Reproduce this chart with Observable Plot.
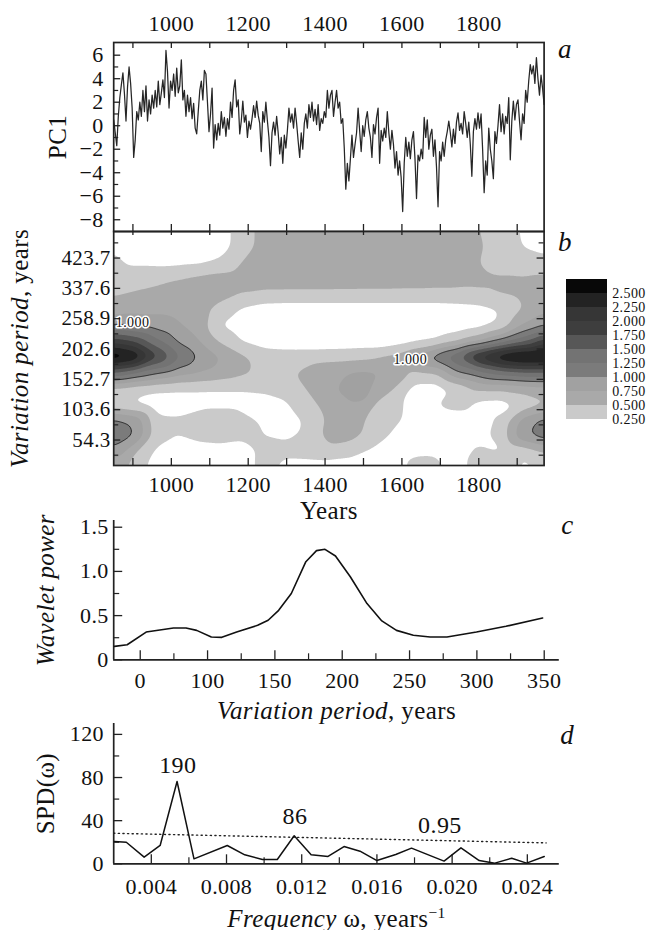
<!DOCTYPE html>
<html><head><meta charset="utf-8">
<script src="https://cdn.jsdelivr.net/npm/d3@7"></script>
<script src="https://cdn.jsdelivr.net/npm/@observablehq/plot@0.6"></script>
<style>
body{margin:0;background:#fff;}
#chart{position:relative;width:663px;height:930px;background:#fff;}
</style></head><body><div id="chart"></div><script>
// ---------- DATA ----------
// Panel a: PC1 series [year, value]
const pc1Series = [
[850,0.5],[854,-0.6],[858,-1.7],[862,0.8],[866,2.4],[870,3.5],[874,4.5],[878,2.7],[882,0.4],[886,3.3],[890,5.0],[894,3.6],[898,1.5],[902,-2.7],[906,-1.2],[910,1.2],[914,0.5],[918,2.0],[922,0.8],[926,3.0],[930,1.2],[934,3.4],[938,0.4],[942,2.2],[946,1.0],[950,2.6],[954,1.5],[958,3.0],[962,1.6],[966,3.8],[970,1.8],[974,2.8],[978,3.9],[982,2.4],[986,6.4],[990,4.6],[994,1.5],[998,3.8],
[1002,3.0],[1006,4.4],[1010,2.5],[1014,4.9],[1018,2.8],[1022,3.4],[1026,5.6],[1030,2.2],[1034,3.0],[1038,0.8],[1042,2.6],[1046,1.2],[1050,2.4],[1054,0.6],[1058,1.9],[1062,-0.2],[1066,-0.7],[1070,1.2],[1074,3.0],[1078,3.8],[1082,2.2],[1086,4.7],[1090,4.4],[1094,2.0],[1098,-0.5],
[1102,1.0],[1106,3.2],[1110,-1.9],[1114,0.1],[1118,-1.2],[1122,0.2],[1126,-0.8],[1130,1.2],[1134,-0.2],[1138,0.7],[1142,-0.9],[1146,0.6],[1150,-0.3],[1154,2.0],[1158,0.7],[1162,3.0],[1166,3.9],[1170,1.6],[1174,2.2],[1178,-0.7],[1182,0.4],[1186,2.1],[1190,0.3],[1194,0.9],[1198,-1.0],
[1202,0.4],[1206,-0.3],[1210,0.6],[1214,1.7],[1218,0.7],[1222,2.1],[1226,0.9],[1230,0.2],[1234,-2.2],[1238,1.2],[1242,0.3],[1246,2.0],[1250,0.4],[1254,-1.0],[1258,-3.4],[1262,-0.6],[1266,0.3],[1270,-0.8],[1274,0.8],[1278,-0.6],[1282,-2.4],[1286,-1.0],[1290,-3.2],[1294,-0.8],[1298,-1.9],
[1302,-0.4],[1306,1.5],[1310,0.3],[1314,1.0],[1318,-0.2],[1322,1.5],[1326,0.2],[1330,-1.3],[1334,-2.7],[1338,-0.6],[1342,-2.0],[1346,0.2],[1350,1.0],[1354,-0.2],[1358,1.8],[1362,0.7],[1366,2.0],[1370,0.4],[1374,1.4],[1378,0.1],[1382,1.8],[1386,-0.4],[1390,0.6],[1394,0.2],[1398,1.2],
[1402,0.7],[1406,3.0],[1410,1.5],[1414,2.6],[1418,3.0],[1422,0.8],[1426,2.0],[1430,3.0],[1434,1.5],[1438,2.0],[1442,0.2],[1446,0.6],[1450,-1.9],[1454,-5.4],[1458,-3.2],[1462,-4.7],[1466,-2.8],[1470,-0.8],[1474,-2.7],[1478,-1.6],[1482,-0.6],[1486,1.5],[1490,-0.4],[1494,-2.2],[1498,0.0],
[1502,-0.9],[1506,0.5],[1510,1.2],[1514,-0.2],[1518,-1.0],[1522,-2.7],[1526,0.1],[1530,-0.7],[1534,0.7],[1538,1.5],[1542,-3.2],[1546,-0.4],[1550,-1.3],[1554,-0.2],[1558,-1.0],[1562,1.2],[1566,-0.6],[1570,-2.0],[1574,-0.4],[1578,-1.6],[1582,-3.6],[1586,-2.2],[1590,-4.2],[1594,-3.0],[1598,-4.4],
[1602,-7.3],[1606,-3.2],[1610,-1.0],[1614,-2.6],[1618,-1.4],[1622,-2.8],[1626,-1.2],[1630,-0.5],[1634,-2.8],[1638,-6.2],[1642,-2.5],[1646,-3.0],[1650,-2.0],[1654,-2.8],[1658,0.7],[1662,-1.0],[1666,0.5],[1670,-2.0],[1674,-0.8],[1678,-0.3],[1682,-2.6],[1686,-1.2],[1690,-3.5],[1694,-6.9],[1698,-2.2],
[1702,-3.0],[1706,-1.4],[1710,-2.6],[1714,-1.2],[1718,-0.5],[1722,0.4],[1726,-0.6],[1730,-1.8],[1734,-0.3],[1738,-1.5],[1742,0.3],[1746,1.1],[1750,-0.4],[1754,0.2],[1758,-0.7],[1762,1.2],[1766,0.2],[1770,-1.0],[1774,0.3],[1778,-1.6],[1782,-4.3],[1786,-0.5],[1790,0.6],[1794,-0.3],[1798,1.1],
[1802,-0.2],[1806,1.0],[1810,-2.0],[1814,-5.7],[1818,-3.0],[1822,-4.2],[1826,-0.2],[1830,-2.0],[1834,-3.0],[1838,-4.5],[1842,-0.5],[1846,-1.5],[1850,0.0],[1854,1.8],[1858,-0.5],[1862,1.0],[1866,-0.7],[1870,0.8],[1874,0.2],[1878,2.4],[1882,-2.9],[1886,0.4],[1890,2.1],[1894,0.5],[1898,1.8],
[1902,2.2],[1906,0.4],[1910,-1.2],[1914,1.0],[1918,0.2],[1922,3.0],[1926,2.0],[1930,3.8],[1934,5.2],[1938,4.4],[1942,5.1],[1946,3.6],[1950,5.8],[1954,4.0],[1958,2.6],[1962,4.3],[1966,3.2],[1970,1.8]
];
const yearDomain = [850, 1970];
const yearTicks = [900, 1000, 1100, 1200, 1300, 1400, 1500, 1600, 1700, 1800, 1900];
const yearLabels = [1000, 1200, 1400, 1600, 1800];
const pc1Domain = [-9.0, 7.08];
const pc1Major = [-8, -6, -4, -2, 0, 2, 4, 6];
const pc1Minor = [-7, -5, -3, -1, 1, 3, 5];

// Panel b: wavelet power grid (rows = period index, top to bottom; cols = years)
const periodLabels = ["54.3", "103.6", "152.7", "202.6", "258.9", "337.6", "423.7"];
const periodDomain = [-0.84, 6.875];
const gridYears = [850, 906, 962, 1018, 1074, 1130, 1186, 1242, 1298, 1354, 1410, 1466, 1522, 1578, 1634, 1690, 1746, 1802, 1858, 1914, 1970];
const gridIdx = [6.9, 6.38, 5.86, 5.34, 4.82, 4.3, 3.78, 3.26, 2.74, 2.22, 1.7, 1.18, 0.66, 0.14, -0.38, -0.9];
const gridValues = [
[0.2,0.08,0.07,0.08,0.1,0.15,0.38,0.6,0.62,0.66,0.68,0.68,0.68,0.67,0.66,0.64,0.6,0.5,0.4,0.22,0.12],
[0.22,0.08,0.06,0.07,0.1,0.15,0.38,0.6,0.64,0.68,0.7,0.7,0.7,0.7,0.68,0.66,0.62,0.52,0.42,0.24,0.15],
[0.3,0.2,0.18,0.18,0.2,0.3,0.52,0.62,0.65,0.67,0.68,0.68,0.67,0.66,0.64,0.62,0.58,0.5,0.42,0.36,0.35],
[0.36,0.4,0.44,0.5,0.56,0.6,0.62,0.64,0.64,0.64,0.63,0.62,0.62,0.61,0.6,0.58,0.56,0.54,0.52,0.52,0.55],
[0.47,0.52,0.56,0.6,0.62,0.6,0.5,0.45,0.45,0.45,0.45,0.45,0.45,0.45,0.45,0.45,0.46,0.48,0.52,0.56,0.6],
[0.64,0.68,0.7,0.68,0.58,0.38,0.2,0.12,0.1,0.1,0.1,0.1,0.1,0.1,0.1,0.1,0.12,0.15,0.25,0.5,0.7],
[0.97,0.95,0.88,0.78,0.62,0.22,0.12,0.08,0.06,0.06,0.06,0.06,0.06,0.06,0.07,0.08,0.1,0.15,0.3,0.75,0.97],
[1.9,1.7,1.3,0.95,0.75,0.45,0.22,0.12,0.1,0.1,0.1,0.1,0.1,0.12,0.2,0.27,0.45,0.7,1.05,1.4,1.9],
[2.8,2.6,1.85,1.3,0.97,0.75,0.55,0.4,0.38,0.38,0.4,0.42,0.45,0.58,0.85,1.2,1.55,2.2,2.6,2.75,2.75],
[1.5,1.25,1.03,0.85,0.75,0.65,0.55,0.42,0.45,0.58,0.7,0.75,0.78,0.72,0.45,0.5,0.98,1.15,1.35,1.45,1.45],
[0.42,0.35,0.3,0.28,0.28,0.28,0.28,0.3,0.33,0.52,0.7,0.85,0.7,0.52,0.15,0.12,0.3,0.55,0.55,0.6,0.65],
[0.3,0.2,0.1,0.1,0.12,0.1,0.12,0.15,0.22,0.4,0.62,0.68,0.52,0.3,0.2,0.25,0.35,0.15,0.12,0.3,0.45],
[1.08,0.95,0.32,0.3,0.45,0.58,0.35,0.2,0.15,0.28,0.55,0.6,0.45,0.3,0.18,0.12,0.1,0.15,0.3,0.85,1.1],
[1.12,1.02,0.35,0.25,0.35,0.38,0.3,0.25,0.2,0.3,0.6,0.58,0.42,0.2,0.15,0.12,0.12,0.18,0.35,0.95,1.15],
[0.95,0.5,0.2,0.1,0.1,0.12,0.15,0.3,0.35,0.38,0.42,0.35,0.2,0.12,0.2,0.22,0.12,0.3,0.2,0.3,0.5],
[0.5,0.35,0.15,0.1,0.28,0.15,0.1,0.35,0.1,0.1,0.1,0.1,0.1,0.1,0.35,0.3,0.1,0.45,0.55,0.15,0.3]
];
const extraPoints = [{year: 1479, idx: 1.57, v: 1.15}];
const bandThresholds = [0.25, 0.5, 0.75, 1.0, 1.25, 1.5, 1.75, 2.0, 2.25, 2.5];
const bandColors = ["#cacaca", "#a9a9a9", "#a1a1a1", "#7b7b7b", "#737373", "#575757", "#3e3e3e", "#363636", "#232323", "#080808"];
const contourLabels = [{year: 899, idx: 3.87, label: "1.000"}, {year: 1622, idx: 2.65, label: "1.000"}];

// Panel c: global wavelet power
const cPeriod = [30.9,40.3,54.4,74.7,84,91.9,102.8,110.6,121.6,137.2,145,152.8,162.2,173,180.9,187.2,195,206,218.4,229.4,240.3,252.8,265.3,277.8,299.7,321.6,348.8];
const cPower  = [0.152,0.17,0.314,0.36,0.36,0.333,0.258,0.254,0.314,0.39,0.447,0.56,0.75,1.11,1.235,1.25,1.174,0.94,0.636,0.44,0.333,0.277,0.258,0.258,0.314,0.379,0.473];
const cTickVals = [50, 100, 150, 200, 250, 300, 350];
const cTickText = ["0", "100", "150", "200", "250", "300", "350"];
const cMinor = [75, 125, 175, 225, 275, 325];
const cYTicks = [0, 0.5, 1.0, 1.5];
const cYText = ["0", "0.5", "1.0", "1.5"];
const cYMinor = [0.25, 0.75, 1.25];

// Panel d: spectral density
const dFreq = [0.00204,0.00267,0.00362,0.00447,0.00537,0.00627,0.00804,0.00897,0.00991,0.0107,0.0116,0.0125,0.0134,0.01425,0.0151,0.016,0.017,0.01784,0.01957,0.02047,0.02144,0.02227,0.02317,0.02396,0.0249];
const dSpd  = [20.6,20,6.2,17,76.3,4.6,17,8.3,4,4,26,8.3,6.8,16,11.7,3,8.6,14.5,2.5,14.8,3,0.6,5.2,0.6,6.8];
const ciFreq = [0.002, 0.025];
const ciLevel = [28.3, 19.4];
const dTickVals = [0.004, 0.008, 0.012, 0.016, 0.020, 0.024];
const dMinor = [0.006, 0.010, 0.014, 0.018, 0.022];
const dYTicks = [0, 40, 80, 120];
const dYMinor = [20, 60, 100];
const peakNotes = [{f: 0.00541, s: 91.2, label: "190"}, {f: 0.01164, s: 43.9, label: "86"}, {f: 0.01935, s: 35.6, label: "0.95"}];

// ---------- LAYOUT ----------
const W = 663, H = 930;
const FL = 113.2;
const serif = '"Liberation Serif","Times New Roman",serif';
const container = document.getElementById("chart");
function st(){ return {fontFamily: serif, fontSize: "22px", background: "transparent", overflow: "visible", color: "#111", letterSpacing: "0.4px"}; }
function add(svg){ svg.style.position = "absolute"; svg.style.left = "0px"; svg.style.top = "0px"; container.appendChild(svg); return svg; }
function richText(svg, full, parts){
  d3.select(svg).selectAll("text").filter(function(){ return this.textContent === full; }).each(function(){
    const t = d3.select(this); t.text(null);
    for (const p of parts){
      const s = t.append("tspan").text(p.text);
      if (p.italic) s.attr("font-style", "italic");
      if (p.sup) s.attr("dy", "-0.55em").attr("font-size", "0.62em");
    }
  });
}
const minus = d => d < 0 ? "\u2212" + (-d) : String(d);
const TK = "#222";

// Panel a
const aTop = 42, aBot = 231, aRight = 543.6, aH = aBot - aTop, aW = aRight - FL;
add(Plot.plot({
  width: W, height: H, marginLeft: FL, marginRight: W - aRight, marginTop: aTop, marginBottom: H - aBot,
  x: {domain: yearDomain, axis: null}, y: {domain: pc1Domain, axis: null},
  style: st(),
  marks: [
    Plot.line(pc1Series, {x: d => d[0], y: d => d[1], stroke: "#262626", strokeWidth: 1.25}),
    Plot.tickX(yearTicks, {x: d => d, insetBottom: aH - 6, stroke: TK, strokeWidth: 1.3}),
    Plot.tickX(yearTicks, {x: d => d, insetTop: aH - 7, stroke: TK, strokeWidth: 1.3}),
    Plot.tickY(pc1Major, {y: d => d, insetRight: aW - 7, stroke: TK, strokeWidth: 1.3}),
    Plot.tickY(pc1Minor, {y: d => d, insetRight: aW - 5, stroke: TK, strokeWidth: 1.2}),
    Plot.frame({stroke: "#222", strokeWidth: 1.7}),
    Plot.text(yearLabels, {x: d => d, text: d => String(d), frameAnchor: "top", dy: -18.7, lineAnchor: "middle"}),
    Plot.text(pc1Major, {y: d => d, text: minus, frameAnchor: "left", dx: -10, textAnchor: "end", lineAnchor: "middle"}),
    Plot.text(["PC1"], {text: d => d, frameAnchor: "left", dx: -56, rotate: -90, fontSize: 25, textAnchor: "middle", lineAnchor: "middle"}),
    Plot.text(["a"], {text: d => d, frameAnchor: "top-right", dx: 14, dy: 7, fontStyle: "italic", fontSize: 27, textAnchor: "start", lineAnchor: "middle"})
  ]
}));

// Panel b
const gridPoints = gridIdx.flatMap((yv, r) => gridYears.map((xv, c) => ({year: xv, idx: yv, v: gridValues[r][c]}))).concat(extraPoints);
const bTop = 231, bBot = 465, bH = bBot - bTop, bW = aRight - FL;
const pIdx = periodLabels.map((d, i) => i);
const pMinor = periodLabels.slice(0, 6).map((d, i) => i + 0.5).concat([-0.5, 6.5]);
const plotB = add(Plot.plot({
  width: W, height: H, marginLeft: FL, marginRight: W - aRight, marginTop: bTop, marginBottom: H - bBot,
  x: {domain: yearDomain, axis: null}, y: {domain: periodDomain, axis: null},
  color: {type: "threshold", domain: bandThresholds.slice(1), range: bandColors},
  style: st(),
  marks: [
    Plot.contour(gridPoints, {x: "year", y: "idx", fill: "v", thresholds: bandThresholds, interpolate: "barycentric", blur: 4, pixelSize: 1, stroke: "none"}),
    Plot.contour(gridPoints, {x: "year", y: "idx", value: "v", thresholds: [1], interpolate: "barycentric", blur: 4, pixelSize: 1, fill: "none", stroke: "#1e1e1e", strokeWidth: 0.9}),
    Plot.text(contourLabels, {x: "year", y: "idx", text: "label", fontSize: 14, fill: "#111", stroke: "white", strokeWidth: 3, paintOrder: "stroke", lineAnchor: "middle"}),
    Plot.tickX(yearTicks, {x: d => d, insetBottom: bH - 4, stroke: TK, strokeWidth: 1.3}),
    Plot.tickX(yearTicks, {x: d => d, insetTop: bH - 7, stroke: TK, strokeWidth: 1.3}),
    Plot.tickY(pIdx, {y: d => d, insetRight: bW - 7, stroke: TK, strokeWidth: 1.3}),
    Plot.tickY(pMinor, {y: d => d, insetRight: bW - 5, stroke: TK, strokeWidth: 1.2}),
    Plot.tickY(pIdx, {y: d => d, insetLeft: bW - 7, stroke: TK, strokeWidth: 1.3}),
    Plot.tickY(pMinor, {y: d => d, insetLeft: bW - 5, stroke: TK, strokeWidth: 1.2}),
    Plot.frame({stroke: "#222", strokeWidth: 1.7}),
    Plot.text(yearLabels, {x: d => d, text: d => String(d), frameAnchor: "bottom", dy: 19, lineAnchor: "middle"}),
    Plot.text(pIdx, {y: d => d, text: d => periodLabels[d], frameAnchor: "left", dx: -3, textAnchor: "end", lineAnchor: "middle", fontSize: 21}),
    Plot.text(["Years"], {text: d => d, frameAnchor: "bottom", dy: 45, fontSize: 25, lineAnchor: "middle"}),
    Plot.text(["Variation period, years"], {text: d => d, frameAnchor: "left", dx: -94, rotate: -90, fontSize: 25, textAnchor: "middle", lineAnchor: "middle"}),
    Plot.text(["b"], {text: d => d, frameAnchor: "top-right", dx: 14, dy: 10.7, fontStyle: "italic", fontSize: 27, textAnchor: "start", lineAnchor: "middle"})
  ]
}));
richText(plotB, "Variation period, years", [{text: "Variation period", italic: true}, {text: ", years"}]);

// Legend
add(Plot.plot({
  width: W, height: H, marginLeft: 566, marginRight: W - 607, marginTop: 279, marginBottom: H - 419,
  x: {domain: [0, 1], axis: null}, y: {domain: [0, 10], axis: null},
  color: {type: "identity"},
  style: st(),
  marks: [
    Plot.rect(bandThresholds, {x1: 0, x2: 1, y1: (d, i) => i, y2: (d, i) => i + 1, fill: (d, i) => bandColors[i]}),
    Plot.text(bandThresholds, {x: 1, y: (d, i) => i, text: d => d.toFixed(3), dx: 4.7, textAnchor: "start", lineAnchor: "middle", fontSize: 14})
  ]
}));

// Panel c
const cTop = 520, cBot = 659.3, cRight = 558.8, cH = cBot - cTop, cW = cRight - FL;
const cXDomain = [30.3, 361.2];
const plotC = add(Plot.plot({
  width: W, height: H, marginLeft: FL, marginRight: W - cRight, marginTop: cTop, marginBottom: H - cBot,
  x: {domain: cXDomain, axis: null}, y: {domain: [0, 1.576], axis: null},
  style: st(),
  marks: [
    Plot.ruleX([cXDomain[0]], {x: d => d, stroke: "#222", strokeWidth: 1.7}),
    Plot.ruleY([0], {y: d => d, stroke: "#222", strokeWidth: 1.7}),
    Plot.tickX(cTickVals, {x: d => d, insetTop: cH - 9, stroke: TK, strokeWidth: 1.3}),
    Plot.tickX(cMinor, {x: d => d, insetTop: cH - 6, stroke: TK, strokeWidth: 1.2}),
    Plot.tickY(cYTicks, {y: d => d, insetRight: cW - 9, stroke: TK, strokeWidth: 1.3}),
    Plot.tickY(cYMinor, {y: d => d, insetRight: cW - 6, stroke: TK, strokeWidth: 1.2}),
    Plot.line(cPeriod.map((p, i) => [p, cPower[i]]), {x: d => d[0], y: d => d[1], stroke: "#111", strokeWidth: 1.6}),
    Plot.text(cTickVals, {x: d => d, text: (d, i) => cTickText[i], frameAnchor: "bottom", dy: 20.7, lineAnchor: "middle"}),
    Plot.text(cYTicks, {y: d => d, text: (d, i) => cYText[i], frameAnchor: "left", dx: -5, textAnchor: "end", lineAnchor: "middle"}),
    Plot.text(["Variation period, years"], {text: d => d, frameAnchor: "bottom", dy: 50.7, fontSize: 25, lineAnchor: "middle"}),
    Plot.text(["Wavelet power"], {text: d => d, frameAnchor: "left", dx: -68, rotate: -90, fontSize: 25, fontStyle: "italic", textAnchor: "middle", lineAnchor: "middle"}),
    Plot.text(["c"], {text: d => d, frameAnchor: "top-right", dx: 2, dy: 5, fontStyle: "italic", fontSize: 27, textAnchor: "start", lineAnchor: "middle"})
  ]
}));
richText(plotC, "Variation period, years", [{text: "Variation period", italic: true}, {text: ", years"}]);

// Panel d
const dTop = 723, dBot = 863.3, dRight = 558.8, dH = dBot - dTop, dW = dRight - FL;
const dXDomain = [0.002, 0.0257];
const plotD = add(Plot.plot({
  width: W, height: H, marginLeft: FL, marginRight: W - dRight, marginTop: dTop, marginBottom: H - dBot,
  x: {domain: dXDomain, axis: null}, y: {domain: [0, 130.1], axis: null},
  style: st(),
  marks: [
    Plot.ruleX([dXDomain[0]], {x: d => d, stroke: "#222", strokeWidth: 1.7}),
    Plot.ruleY([0], {y: d => d, stroke: "#222", strokeWidth: 1.7}),
    Plot.tickX(dTickVals, {x: d => d, insetTop: dH - 9, stroke: TK, strokeWidth: 1.3}),
    Plot.tickX(dMinor, {x: d => d, insetTop: dH - 6, stroke: TK, strokeWidth: 1.2}),
    Plot.tickY(dYTicks, {y: d => d, insetRight: dW - 9, stroke: TK, strokeWidth: 1.3}),
    Plot.tickY(dYMinor, {y: d => d, insetRight: dW - 6, stroke: TK, strokeWidth: 1.2}),
    Plot.line(ciFreq.map((f, i) => [f, ciLevel[i]]), {x: d => d[0], y: d => d[1], stroke: "#222", strokeWidth: 1.4, strokeDasharray: "1.2,3.4"}),
    Plot.line(dFreq.map((f, i) => [f, dSpd[i]]), {x: d => d[0], y: d => d[1], stroke: "#111", strokeWidth: 1.5}),
    Plot.text(peakNotes, {x: "f", y: "s", text: "label", fontSize: 24, lineAnchor: "middle"}),
    Plot.text(dTickVals, {x: d => d, text: d => d.toFixed(3), frameAnchor: "bottom", dy: 23.4, lineAnchor: "middle"}),
    Plot.text(dYTicks, {y: d => d, text: d => String(d), frameAnchor: "left", dx: -9.7, textAnchor: "end", lineAnchor: "middle"}),
    Plot.text(["Frequency \u03c9, years\u22121"], {text: d => d, frameAnchor: "bottom", dy: 54.7, fontSize: 25, lineAnchor: "middle"}),
    Plot.text(["SPD(\u03c9)"], {text: d => d, frameAnchor: "left", dx: -68, rotate: -90, fontSize: 25, textAnchor: "middle", lineAnchor: "middle"}),
    Plot.text(["d"], {text: d => d, frameAnchor: "top-right", dx: 1, dy: 12, fontStyle: "italic", fontSize: 27, textAnchor: "start", lineAnchor: "middle"})
  ]
}));
richText(plotD, "Frequency \u03c9, years\u22121", [{text: "Frequency", italic: true}, {text: " \u03c9, years"}, {text: "\u22121", sup: true}]);
</script></body></html>
